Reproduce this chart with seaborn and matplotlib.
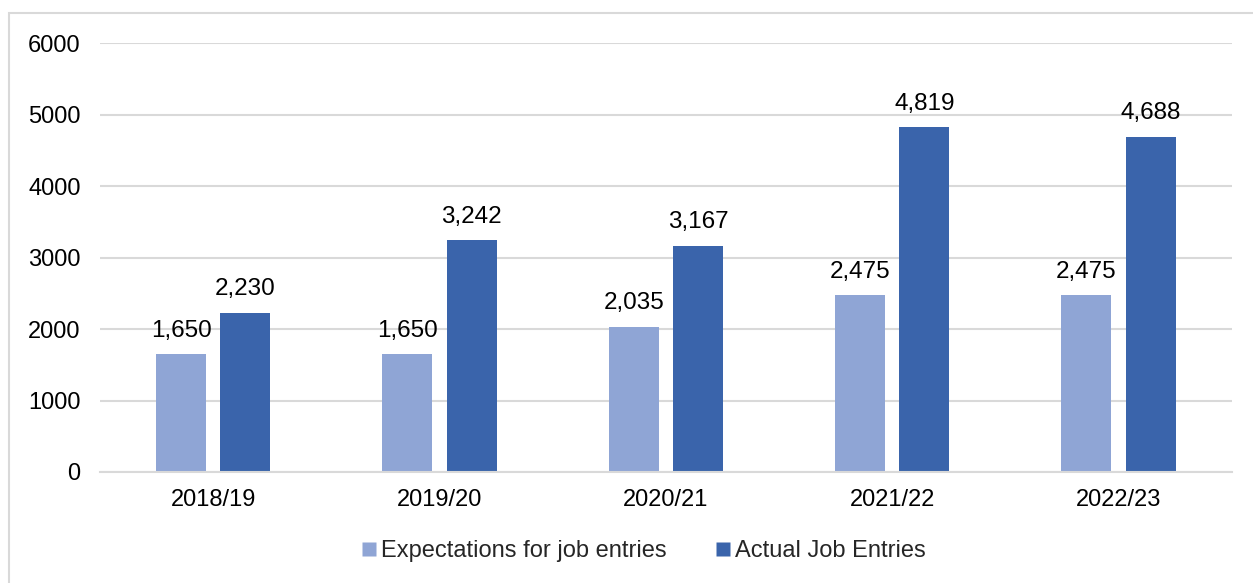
import matplotlib
matplotlib.use("Agg")
import matplotlib.pyplot as plt
import seaborn as sns
import pandas as pd
from matplotlib.patches import Rectangle
from matplotlib.lines import Line2D

years = ["2018/19", "2019/20", "2020/21", "2021/22", "2022/23"]
expected = [1650, 1650, 2035, 2475, 2475]
actual = [2230, 3242, 3167, 4819, 4688]
series_names = ["Expectations for job entries", "Actual Job Entries"]
colors = ["#8FA5D5", "#3A64AB"]
yticks = [0, 1000, 2000, 3000, 4000, 5000, 6000]

df = pd.DataFrame({
    "year": years * 2,
    "value": expected + actual,
    "series": [series_names[0]] * len(years) + [series_names[1]] * len(years),
})

sns.set_theme(style="white")
plt.rcParams["font.family"] = ["Liberation Sans", "DejaVu Sans"]

fig = plt.figure(figsize=(12.53, 5.83), dpi=100)
ax = fig.add_axes([0.0798, 0.1904, 0.9032, 0.7358])

sns.barplot(data=df, x="year", y="value", hue="series", order=years,
            hue_order=series_names, palette=colors, width=0.568, gap=0.225,
            ax=ax, legend=False, saturation=1, edgecolor="none")

for c in ax.containers:
    ax.bar_label(c, labels=[f"{v:,.0f}" for v in c.datavalues],
                 padding=9, fontsize=17.5, color="#000000")

ax.set_ylim(0, 6000)
ax.set_yticks(yticks)
ax.set_yticklabels([str(t) for t in yticks])
ax.set_xlim(-0.5, len(years) - 0.5)
ax.yaxis.grid(True, color="#D9D9D9", linewidth=1.5)
ax.set_axisbelow(True)
for s in ["top", "right", "left"]:
    ax.spines[s].set_visible(False)
ax.spines["bottom"].set_color("#D9D9D9")
ax.spines["bottom"].set_linewidth(1.5)
ax.tick_params(axis="both", length=0, labelsize=17, colors="#000000")
ax.tick_params(axis="y", pad=14)
ax.tick_params(axis="x", pad=12)
ax.set_xlabel("")
ax.set_ylabel("")

handles = [Line2D([0], [0], marker="s", linestyle="none", markersize=10,
                  markerfacecolor=col, markeredgecolor="none") for col in colors]
fig.legend(handles, series_names, loc="center", bbox_to_anchor=(0.512, 0.055),
           ncol=2, frameon=False, fontsize=17, handletextpad=0.0,
           columnspacing=1.9, handlelength=1.0)

fig.patches.append(Rectangle((0.0072, -0.1), 1.2, 0.9777 + 0.1,
                             transform=fig.transFigure, fill=False,
                             edgecolor="#D9D9D9", linewidth=1.5))

fig.savefig("out.png", dpi=100, facecolor="white")
